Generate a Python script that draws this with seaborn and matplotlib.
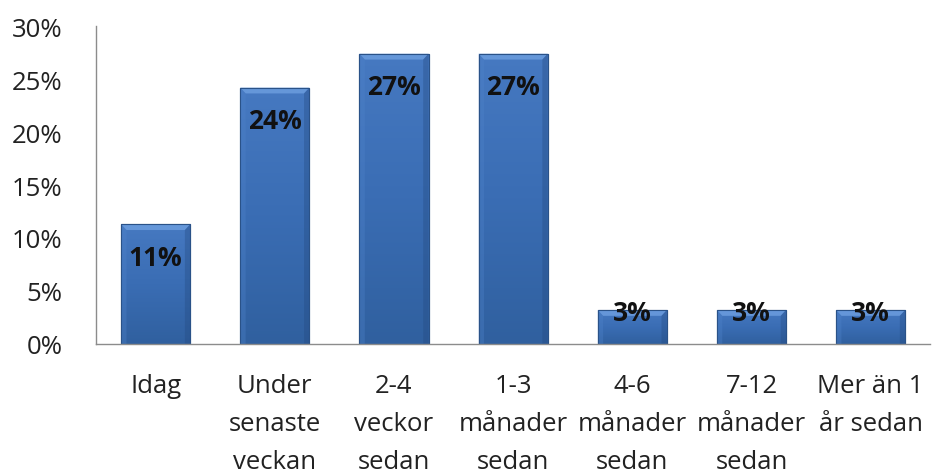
import numpy as np
import pandas as pd
import matplotlib
matplotlib.use("Agg")
import matplotlib.pyplot as plt
import seaborn as sns
from matplotlib.patches import Polygon
from matplotlib.colors import LinearSegmentedColormap

# Svarsfördelning: när senast?
categories = [
    "Idag",
    "Under\nsenaste\nveckan",
    "2-4\nveckor\nsedan",
    "1-3\nmånader\nsedan",
    "4-6\nmånader\nsedan",
    "7-12\nmånader\nsedan",
    "Mer än 1\når sedan",
]
shares = [11.3, 24.2, 27.4, 27.4, 3.2, 3.2, 3.2]
y_ticks = [0, 5, 10, 15, 20, 25, 30]
y_tick_labels = ["0%", "5%", "10%", "15%", "20%", "25%", "30%"]

sns.set_theme(style="white")
plt.rcParams["font.family"] = ["Open Sans", "DejaVu Sans"]

fig = plt.figure(figsize=(9.33, 4.77), dpi=100)
ax = fig.add_axes([0.103, 0.277, 0.894, 0.666])

df = pd.DataFrame({"kategori": categories, "andel": shares})
sns.barplot(data=df, x="kategori", y="andel", color="#3a6cb2", width=0.58,
            saturation=1, edgecolor="#2a5288", linewidth=0.8, ax=ax, zorder=2)

# Shaded fill with a bevelled top for each bar
shade = LinearSegmentedColormap.from_list("bar", ["#30609f", "#3a6db4", "#4679c1"])
grad = np.linspace(0, 1, 256).reshape(-1, 1)
bx, by = 0.045, 0.55
for patch in ax.patches:
    x0, w, h = patch.get_x(), patch.get_width(), patch.get_height()
    im = ax.imshow(grad, cmap=shade, origin="lower", aspect="auto",
                   extent=[x0, x0 + w, 0, h], zorder=2.1)
    im.set_clip_path(patch)
    ax.add_patch(Polygon([(x0, h), (x0 + w, h), (x0 + w - bx, h - by), (x0 + bx, h - by)],
                         closed=True, facecolor="#6e9fe0", edgecolor="none", alpha=0.8, zorder=2.2))
    ax.add_patch(Polygon([(x0, h), (x0 + bx, h - by), (x0 + bx, 0), (x0, 0)],
                         closed=True, facecolor="#4f83ca", edgecolor="none", alpha=0.35, zorder=2.2))
    ax.add_patch(Polygon([(x0 + w, h), (x0 + w - bx, h - by), (x0 + w - bx, 0), (x0 + w, 0)],
                         closed=True, facecolor="#23497f", edgecolor="none", alpha=0.35, zorder=2.2))
    ax.add_patch(Polygon([(x0, h), (x0 + w, h), (x0 + w, 0), (x0, 0)],
                         closed=True, facecolor="none", edgecolor="#2a5288", linewidth=0.8, zorder=2.3))

for i, v in enumerate(shares):
    y = v - 3.1 if v > 6 else v - 0.2
    ax.text(i, y, f"{round(v)}%", ha="center", va="center", fontsize=19,
            fontweight="bold", color="#111111", zorder=3)

ax.set_xlim(-0.5, 6.5)
ax.set_ylim(0, 30)
ax.set_yticks(y_ticks)
ax.set_yticklabels(y_tick_labels)
ax.set_xlabel("")
ax.set_ylabel("")
ax.tick_params(axis="both", length=0, labelsize=18.5, labelcolor="#222222")
ax.tick_params(axis="y", pad=24)
ax.tick_params(axis="x", pad=21)
for lab in ax.get_xticklabels():
    lab.set_linespacing(1.68)

for side in ["top", "right"]:
    ax.spines[side].set_visible(False)
for side in ["left", "bottom"]:
    ax.spines[side].set_color("#8c8c8c")
    ax.spines[side].set_linewidth(1.0)

fig.savefig("out.png", dpi=100, facecolor="white")
